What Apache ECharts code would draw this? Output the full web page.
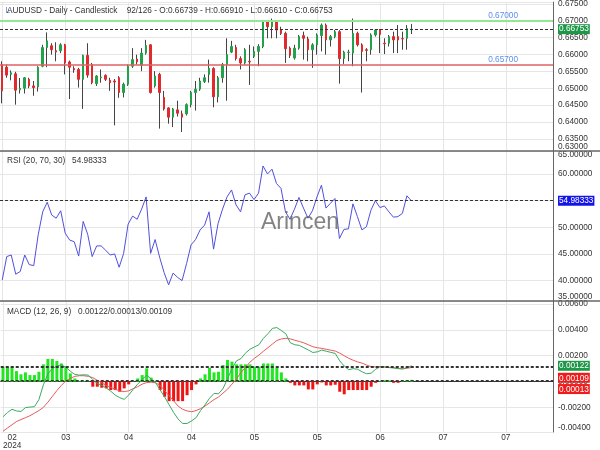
<!DOCTYPE html>
<html><head><meta charset="utf-8">
<script src="https://cdn.jsdelivr.net/npm/echarts@6/dist/echarts.min.js"></script>
<style>html,body{margin:0;padding:0;background:#fff}#c{width:600px;height:450px}</style>
</head><body><div id="c"></div>
<script>
// ---------- data ----------
const slotCount = 123;          // category slots on the time axis (92 filled)
const totalBars = 126;
const tickLabels = ['02','03','04','04','05','05','06','07','07'];
const tickYear = '2024';
const tickEvery = 14;

const open = [
0.65705,0.65626,0.65413,0.65430,0.64954,0.65003,0.65267,0.65071,0.65041,0.65655,
0.66211,0.66261,0.66115,0.66115,0.66290,0.65781,0.65588,0.65559,0.65267,0.65977,
0.65705,0.65138,0.65313,0.65384,0.65237,0.65217,0.65313,0.64875,0.65120,0.65655,
0.65869,0.65685,0.66044,0.66290,0.65071,0.65413,0.64729,0.64419,0.64144,0.64360,
0.64243,0.64243,0.64515,0.64875,0.64974,0.65196,0.65413,0.65588,0.64749,0.65313,
0.65705,0.66074,0.66211,0.65881,0.65752,0.65802,0.65948,0.66094,0.66240,0.66971,
0.66825,0.66971,0.66729,0.66629,0.66191,0.65898,0.66191,0.66562,0.66465,0.66144,
0.66290,0.66562,0.66875,0.66436,0.66533,0.66679,0.65881,0.66065,0.66044,0.66629,
0.66290,0.66144,0.66144,0.66582,0.66729,0.66337,0.66337,0.66533,0.66533,0.66474,
0.66483,0.66739];
const close = [
0.64924,0.65392,0.65460,0.64945,0.64998,0.65313,0.65071,0.65021,0.65626,0.66211,
0.66407,0.66144,0.66074,0.66290,0.65752,0.65626,0.65547,0.65267,0.65977,0.65392,
0.65167,0.65363,0.65334,0.65267,0.65167,0.65188,0.64875,0.65120,0.65655,0.65851,
0.65781,0.66044,0.66269,0.64875,0.65363,0.64875,0.64389,0.64144,0.64389,0.64261,
0.64144,0.64515,0.64875,0.64974,0.65217,0.65313,0.65588,0.64749,0.65313,0.65705,
0.65998,0.66240,0.65881,0.65752,0.66144,0.65781,0.66094,0.66240,0.66971,0.66825,
0.66971,0.66729,0.66629,0.66173,0.65977,0.66191,0.66533,0.66483,0.66144,0.66290,
0.66582,0.66875,0.66436,0.66533,0.66679,0.65881,0.66074,0.66074,0.66629,0.66290,
0.66094,0.66123,0.66582,0.66729,0.66600,0.66319,0.66533,0.66436,0.66436,0.66465,
0.66775,0.66753];
const low = [
0.64553,0.65313,0.65237,0.64515,0.64846,0.64846,0.65003,0.64778,0.64904,0.65626,
0.65626,0.65998,0.65802,0.66044,0.65413,0.64682,0.65460,0.65021,0.64389,0.65313,
0.65120,0.65071,0.65167,0.65217,0.64924,0.63901,0.64720,0.64729,0.65071,0.65606,
0.65705,0.65509,0.65998,0.64846,0.65021,0.63805,0.64340,0.63951,0.63851,0.64164,
0.63705,0.64193,0.64436,0.64340,0.64924,0.65158,0.65167,0.64436,0.64582,0.65167,
0.64632,0.66044,0.65822,0.65559,0.65705,0.65100,0.65898,0.65655,0.66191,0.66483,
0.66483,0.66483,0.66582,0.65752,0.65898,0.65851,0.66144,0.65851,0.65802,0.65606,
0.65998,0.66094,0.65998,0.66240,0.66483,0.65138,0.65723,0.65802,0.65655,0.66240,
0.64875,0.65802,0.65998,0.66533,0.66044,0.66015,0.66240,0.66044,0.66044,0.66144,
0.66144,0.66610];
const high = [
0.65802,0.65705,0.65530,0.65489,0.65305,0.65334,0.65313,0.65217,0.65655,0.66290,
0.66658,0.66337,0.66366,0.66337,0.66319,0.65822,0.65655,0.65606,0.65998,0.66337,
0.65752,0.65392,0.65559,0.65413,0.65313,0.65275,0.65363,0.65167,0.65705,0.66191,
0.65998,0.66191,0.66436,0.66308,0.65509,0.65460,0.64924,0.64436,0.64419,0.64632,
0.64340,0.64553,0.64924,0.65217,0.65313,0.65413,0.65851,0.65626,0.65363,0.65752,
0.66483,0.66407,0.66290,0.65948,0.66191,0.66290,0.66240,0.66308,0.66992,0.66992,
0.67068,0.66992,0.66825,0.66679,0.66240,0.66290,0.66582,0.66679,0.66533,0.66337,
0.66629,0.66921,0.66921,0.66582,0.66729,0.66729,0.66115,0.66144,0.67068,0.66679,
0.66337,0.66191,0.66629,0.66758,0.66758,0.66483,0.66582,0.66679,0.66875,0.66679,
0.66875,0.66910];

const rsi = [
40.1,44.5,44.8,41.2,41.7,44.8,43.0,42.8,48.6,52.9,
54.7,52.3,51.7,53.1,48.9,47.6,47.3,44.6,51.1,48.7,
44.5,46.5,46.5,45.7,44.8,45.0,42.5,45.1,50.6,52.1,
51.5,53.4,55.7,45.1,47.7,44.4,41.5,39.2,41.4,40.6,
40.0,43.2,46.7,47.7,49.5,50.4,52.9,45.9,50.7,53.4,
55.7,57.0,54.2,52.9,56.1,56.4,55.2,56.4,61.5,60.0,
60.9,58.2,57.3,52.9,51.5,53.4,55.6,53.6,51.7,53.1,
55.7,57.9,53.6,54.5,55.4,47.9,49.6,49.7,54.4,52.0,
49.5,50.1,53.2,55.0,53.7,54.0,52.9,51.9,52.0,52.6,
55.9,54.98333];

const macd = [
-0.00273,-0.00240,-0.00215,-0.00228,-0.00232,-0.00202,-0.00198,-0.00195,-0.00140,-0.00025,
0.00060,0.00100,0.00120,0.00130,0.00110,0.00080,0.00055,0.00050,0.00052,0.00050,
0.00015,-0.00015,-0.00030,-0.00050,-0.00075,-0.00105,-0.00125,-0.00138,-0.00105,-0.00060,
-0.00020,0.00015,0.00050,0.00020,-0.00010,-0.00065,-0.00120,-0.00180,-0.00240,-0.00290,
-0.00325,-0.00325,-0.00305,-0.00280,-0.00225,-0.00180,-0.00130,-0.00092,-0.00095,-0.00055,
0.00020,0.00100,0.00160,0.00178,0.00220,0.00250,0.00268,0.00285,0.00335,0.00370,
0.00412,0.00418,0.00395,0.00370,0.00300,0.00285,0.00280,0.00262,0.00245,0.00225,
0.00230,0.00244,0.00235,0.00226,0.00218,0.00160,0.00120,0.00092,0.00100,0.00095,
0.00075,0.00060,0.00065,0.00095,0.00115,0.00112,0.00108,0.00105,0.00100,0.00098,
0.00108,0.00122];
const signal = [
-0.00385,-0.00360,-0.00335,-0.00310,-0.00295,-0.00280,-0.00265,-0.00245,-0.00225,-0.00200,
-0.00160,-0.00115,-0.00070,-0.00030,0.00005,0.00025,0.00040,0.00045,0.00045,0.00040,
0.00030,0.00010,-0.00010,-0.00030,-0.00045,-0.00060,-0.00072,-0.00078,-0.00072,-0.00055,
-0.00040,-0.00020,-0.00008,-0.00005,-0.00010,-0.00030,-0.00070,-0.00110,-0.00150,-0.00190,
-0.00215,-0.00228,-0.00234,-0.00225,-0.00210,-0.00190,-0.00165,-0.00140,-0.00120,-0.00090,
-0.00060,-0.00020,0.00020,0.00070,0.00110,0.00150,0.00180,0.00205,0.00235,0.00262,
0.00290,0.00318,0.00330,0.00335,0.00330,0.00320,0.00310,0.00300,0.00285,0.00270,
0.00262,0.00257,0.00250,0.00243,0.00236,0.00220,0.00200,0.00180,0.00165,0.00152,
0.00142,0.00128,0.00115,0.00113,0.00115,0.00113,0.00110,0.00107,0.00102,0.00098,
0.00103,0.00109];
const hist = [
0.00115,0.00115,0.00115,0.00081,0.00056,0.00071,0.00050,0.00050,0.00076,0.00133,
0.00175,0.00175,0.00159,0.00140,0.00115,0.00063,0.00024,0.00004,0.00004,0.00002,
-0.00040,-0.00040,-0.00048,-0.00053,-0.00066,-0.00066,-0.00079,-0.00053,-0.00022,0.00002,
0.00024,0.00050,0.00102,0.00030,0.00003,-0.00066,-0.00118,-0.00152,-0.00152,-0.00152,
-0.00152,-0.00106,-0.00066,-0.00022,0.00024,0.00056,0.00107,0.00071,0.00076,0.00128,
0.00167,0.00154,0.00133,0.00133,0.00133,0.00133,0.00115,0.00115,0.00140,0.00140,
0.00140,0.00107,0.00071,0.00024,-0.00010,-0.00030,-0.00030,-0.00030,-0.00061,-0.00061,
-0.00022,-0.00007,-0.00030,-0.00030,-0.00025,-0.00079,-0.00099,-0.00066,-0.00066,-0.00066,
-0.00066,-0.00066,-0.00040,-0.00010,0.00003,0.00010,0.00008,-0.00010,-0.00010,0.00003,
0.00010,0.00013];

const priceLevels = [0.67000, 0.65700];
const priceRange = [0.63141, 0.67556];
const rsiRange = [36.17, 64.31];
const macdRange = [-0.00391, 0.00624];
const rsiParams = [20, 70, 30];
const macdParams = [12, 26, 9];

// ---------- style ----------
const FONT = '"Liberation Sans", Arial, Helvetica, sans-serif';
const FS = 8.25;
const UP = '#22a24a', DOWN = '#e02a2e', WICK = '#444444';
const GRID = '#e6e6e6';

const last = open.length - 1;
const categories = Array.from({length: slotCount}, (_, i) => String(i));
const ohlc = open.map((o, i) => [o, close[i], low[i], high[i]]);
const bodies = open.map((o, i) => [o, close[i], Math.min(o, close[i]), Math.max(o, close[i])]);

function axisFmt(step, ext) {
  return function (v) {
    let x = v;
    if (Math.abs(v - ext[0]) < step * 1e-3) x = Math.floor(v / step + 1e-9) * step;
    else if (Math.abs(v - ext[1]) < step * 1e-3) x = Math.ceil(v / step - 1e-9) * step;
    if (Math.abs(x) < 1e-12) x = 0;
    return x.toFixed(5);
  };
}

function xAxis(gi, withLabels) {
  return {
    type: 'category', gridIndex: gi, data: categories, boundaryGap: true,
    axisLine: {show: withLabels, lineStyle: {color: '#333', width: 1}},
    axisTick: {show: false},
    splitLine: {show: true, interval: tickEvery - 1, alignWithLabel: true, lineStyle: {color: GRID, width: 1}},
    axisLabel: withLabels ? {
      show: true, interval: tickEvery - 1, margin: 1, color: '#333', fontFamily: FONT, fontSize: FS,
      lineHeight: 9, hideOverlap: false, alignMinLabel: 'left',
      formatter: function (v, i) {
        const k = i / tickEvery;
        if (i === 0) return '{a|' + tickLabels[0] + '}\n{a|' + tickYear + '}';
        return (Number.isInteger(k) && k < tickLabels.length) ? tickLabels[k] : '';
      },
      rich: {a: {align: 'center', fontFamily: FONT, fontSize: FS, color: '#333', lineHeight: 8.5}}
    } : {show: false}
  };
}

function yAxis(gi, ext, step, showMax) {
  const lbl = {
    show: true, margin: 5, color: '#333', fontFamily: FONT, fontSize: FS,
    showMinLabel: true, showMaxLabel: showMax,
    verticalAlignMinLabel: 'bottom',
    formatter: axisFmt(step, ext)
  };
  if (showMax) lbl.verticalAlignMaxLabel = 'top';
  return {
    type: 'value', gridIndex: gi, position: 'right', min: ext[0], max: ext[1],
    minInterval: step, maxInterval: step,
    axisLine: {show: true, lineStyle: {color: '#666', width: 1}},
    axisTick: {show: false},
    splitLine: {show: true, lineStyle: {color: GRID, width: 1}},
    axisLabel: lbl
  };
}

function boxLabel(bg, shift) {
  const base = {show: true, position: 'end', distance: 5, fontFamily: FONT, fontSize: FS};
  if (!shift) {
    return Object.assign(base, {color: '#fff', backgroundColor: bg, padding: [1.5, 1, 0.5, 1],
      formatter: p => p.value.toFixed(5)});
  }
  return Object.assign(base, {padding: [shift * 2, 0, 0, 0],
    formatter: p => '{b|' + p.value.toFixed(5) + '}',
    rich: {b: {color: '#fff', backgroundColor: bg, padding: [1.5, 1, 0.5, 1], fontFamily: FONT, fontSize: FS}}});
}
const dashStyle = {type: [3, 2], color: '#333', width: 1};
const mlBase = {silent: true, symbol: ['none', 'none'], animation: false, precision: 8};

const title1 = `AUDUSD - Daily - Candlestick    ${open.length}/${totalBars} - O:${open[last].toFixed(5)} - H:${high[last].toFixed(5)} - L:${low[last].toFixed(5)} - C:${close[last].toFixed(5)}`;
const title2 = `RSI (${rsiParams.join(', ')})   ${rsi[last].toFixed(5)}`;
const title3 = `MACD (${macdParams.join(', ')})   ${macd[last].toFixed(5)}/${hist[last].toFixed(5)}/${signal[last].toFixed(5)}`;

const chart = echarts.init(document.getElementById('c'), null, {renderer: 'canvas', width: 600, height: 450});
chart.setOption({
  animation: false,
  backgroundColor: '#fff',
  grid: [
    {left: 0, right: 47, top: 0, height: 151},
    {left: 0, right: 47, top: 151, height: 150},
    {left: 0, right: 47, top: 301, height: 131}
  ],
  xAxis: [xAxis(0, false), xAxis(1, false), xAxis(2, true)],
  yAxis: [yAxis(0, priceRange, 0.005, false), yAxis(1, rsiRange, 5, true), yAxis(2, macdRange, 0.002, false)],
  series: [
    {type: 'candlestick', xAxisIndex: 0, yAxisIndex: 0, data: ohlc, barWidth: 1, silent: true,
      itemStyle: {color: WICK, color0: WICK, borderColor: WICK, borderColor0: WICK, borderColorDoji: WICK, borderWidth: 1}},
    {type: 'candlestick', xAxisIndex: 0, yAxisIndex: 0, data: bodies, barWidth: 2, silent: true,
      itemStyle: {color: UP, color0: DOWN, borderColor: UP, borderColor0: DOWN, borderColorDoji: WICK, borderWidth: 1},
      markLine: Object.assign({}, mlBase, {data: [
        {yAxis: priceLevels[0], lineStyle: {color: '#93e693', width: 2, type: 'solid'},
          label: {show: true, position: 'insideEndTop', distance: 1, padding: [0, 34, 0, 0], color: '#5b8ef0', fontFamily: FONT, fontSize: FS, formatter: p => p.value.toFixed(5)}},
        {yAxis: priceLevels[1], lineStyle: {color: '#e06262', width: 1.5, type: 'solid'},
          label: {show: true, position: 'insideEndTop', distance: 1, padding: [0, 34, 0, 0], color: '#5b8ef0', fontFamily: FONT, fontSize: FS, formatter: p => p.value.toFixed(5)}},
        {yAxis: priceLevels[1], lineStyle: {opacity: 0},
          label: {show: true, position: 'insideStartTop', distance: 3, padding: [0, 0, 0, 4], color: '#5b8ef0', fontFamily: FONT, fontSize: FS, formatter: 'L1'}},
        {yAxis: close[last], lineStyle: dashStyle, label: boxLabel('#1e9748', 0)}
      ]})},
    {type: 'line', xAxisIndex: 1, yAxisIndex: 1, data: rsi, symbol: 'none', silent: true,
      lineStyle: {color: '#5050dc', width: 1},
      markLine: Object.assign({}, mlBase, {data: [
        {yAxis: rsi[last], lineStyle: dashStyle, label: boxLabel('#1414e6', 0)}
      ]})},
    {type: 'bar', xAxisIndex: 2, yAxisIndex: 2, data: hist, barWidth: 3, silent: true,
      itemStyle: {color: p => p.value >= 0 ? '#22e622' : '#ee1414'}},
    {type: 'line', xAxisIndex: 2, yAxisIndex: 2, data: signal, symbol: 'none', silent: true,
      lineStyle: {color: '#e85a5a', width: 1},
      markLine: Object.assign({}, mlBase, {data: [
        {yAxis: signal[last], lineStyle: dashStyle, label: boxLabel('#ee1c1c', 10.3)},
        {yAxis: hist[last], lineStyle: dashStyle, label: boxLabel('#ee1c1c', 9.2)}
      ]})},
    {type: 'line', xAxisIndex: 2, yAxisIndex: 2, data: macd, symbol: 'none', silent: true,
      lineStyle: {color: '#3aaa62', width: 1},
      markLine: Object.assign({}, mlBase, {data: [
        {yAxis: macd[last], lineStyle: dashStyle, label: boxLabel('#1e9748', 0)}
      ]})}
  ],
  graphic: [
    {type: 'line', silent: true, z: 100, shape: {x1: 0, y1: 151, x2: 600, y2: 151}, style: {stroke: '#666', lineWidth: 1.5}},
    {type: 'line', silent: true, z: 100, shape: {x1: 0, y1: 301, x2: 600, y2: 301}, style: {stroke: '#666', lineWidth: 1.5}},
    {type: 'text', silent: true, z: 100, style: {x: 5.5, y: 11, text: 'L', fill: '#5b8ef0', fontFamily: FONT, fontSize: FS, verticalAlign: 'middle'}},
    {type: 'text', silent: true, z: 100, style: {x: 7, y: 11, text: title1, fill: '#333', fontFamily: FONT, fontSize: FS, verticalAlign: 'middle'}},
    {type: 'text', silent: true, z: 100, style: {x: 7, y: 161, text: title2, fill: '#333', fontFamily: FONT, fontSize: FS, verticalAlign: 'middle'}},
    {type: 'text', silent: true, z: 100, style: {x: 7, y: 311.5, text: title3, fill: '#333', fontFamily: FONT, fontSize: FS, verticalAlign: 'middle'}},
    {type: 'text', silent: true, z: 100, style: {x: 300, y: 223, text: 'Arincen', fill: 'rgba(100,100,100,0.8)', fontFamily: FONT, fontSize: 23, align: 'center', verticalAlign: 'middle'}}
  ]
});
</script>
</body></html>
